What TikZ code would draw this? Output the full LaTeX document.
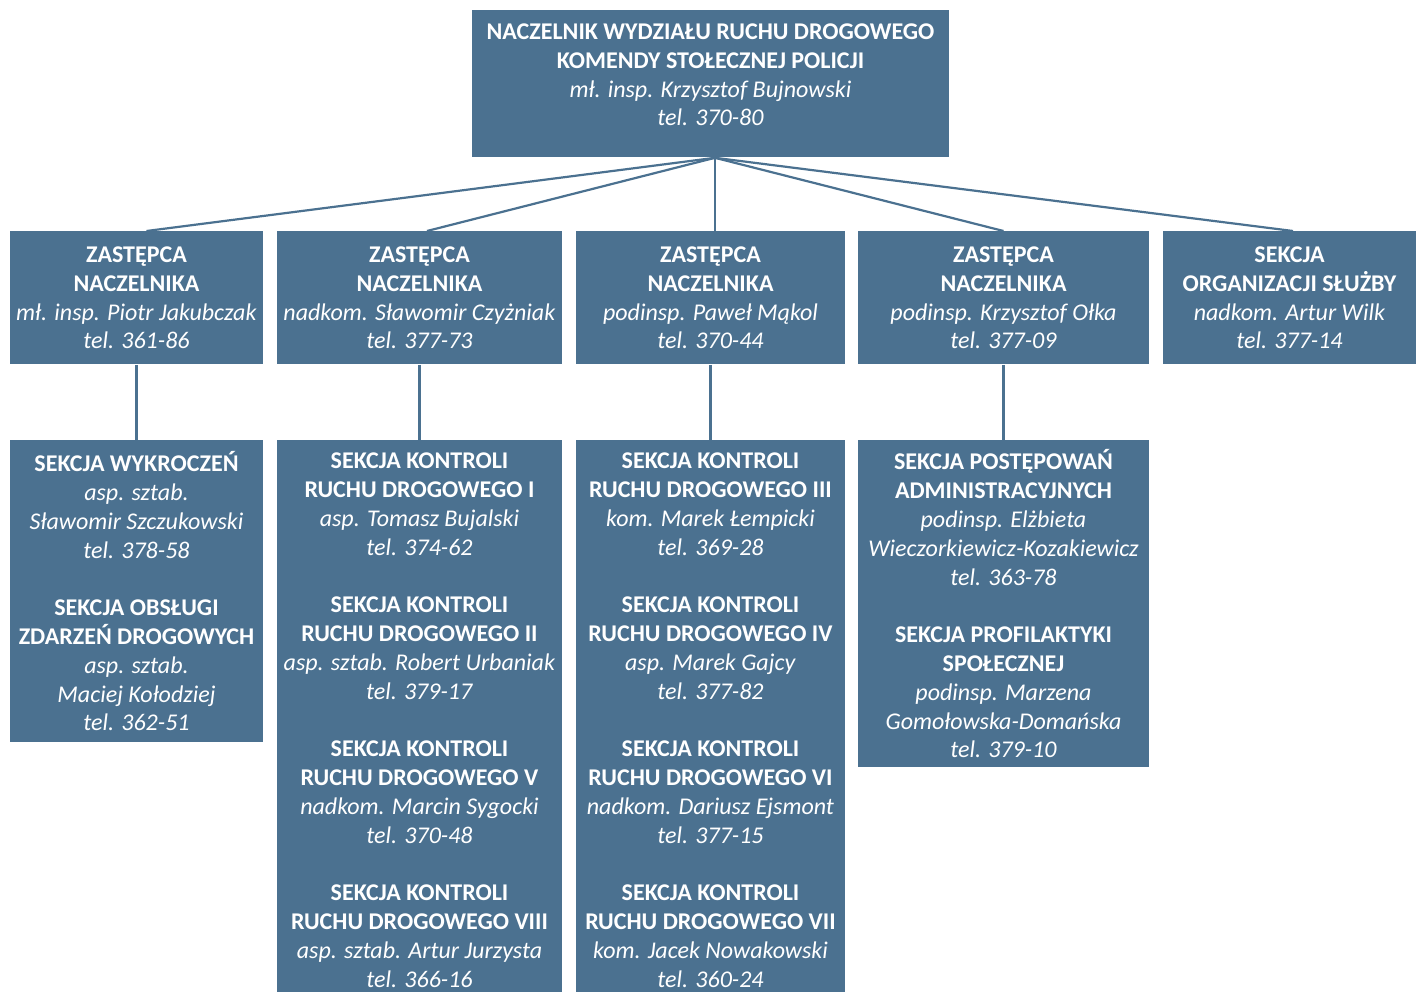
\documentclass[tikz,border=0pt]{standalone}
\usepackage{fontspec}
\setmainfont{Carlito}
\usetikzlibrary{positioning, calc}
\definecolor{Steel}{HTML}{4B7190}
\definecolor{White}{HTML}{FFFFFF}
\newcommand{\tyt}[1]{\textbf{#1}}
\newcommand{\kto}[1]{\textit{#1}}
\newcommand{\odstep}{\\[14.4pt]}
\tikzset{
    unitbox/.style={rectangle, fill=Steel, text=White, inner sep=0pt, align=center, anchor=north,
        font=\fontsize{12}{14.4}\selectfont},
    link/.style={draw=Steel, line width=1.1pt},
}

\begin{document}
\begin{tikzpicture}[x=0.5pt, y=-0.5pt]
    \useasboundingbox (0,0) rectangle (1419,991);

    % Naczelnik
    \node[unitbox, minimum width=238.5pt, minimum height=73.5pt, text depth=9pt] (naczelnik) at (710.5,10)
        {\tyt{NACZELNIK WYDZIAŁU RUCHU DROGOWEGO}\\ \tyt{KOMENDY STOŁECZNEJ POLICJI}\\
         \kto{mł. insp. Krzysztof Bujnowski}\\ \kto{tel. 370-80}};

    % Zastepcy i sekcja organizacji
    \node[unitbox, minimum width=126.5pt, minimum height=66.5pt] (zast1) at (136.5,231)
        {\tyt{ZASTĘPCA}\\ \tyt{NACZELNIKA}\\ \kto{mł. insp. Piotr Jakubczak}\\ \kto{tel. 361-86}};
    \node[unitbox, minimum width=142.5pt, minimum height=66.5pt] (zast2) at (419.5,231)
        {\tyt{ZASTĘPCA}\\ \tyt{NACZELNIKA}\\ \kto{nadkom. Sławomir Czyżniak}\\ \kto{tel. 377-73}};
    \node[unitbox, minimum width=134.5pt, minimum height=66.5pt] (zast3) at (710.5,231)
        {\tyt{ZASTĘPCA}\\ \tyt{NACZELNIKA}\\ \kto{podinsp. Paweł Mąkol}\\ \kto{tel. 370-44}};
    \node[unitbox, minimum width=145.5pt, minimum height=66.5pt] (zast4) at (1003.5,231)
        {\tyt{ZASTĘPCA}\\ \tyt{NACZELNIKA}\\ \kto{podinsp. Krzysztof Ołka}\\ \kto{tel. 377-09}};
    \node[unitbox, minimum width=126.5pt, minimum height=66.5pt] (organizacja) at (1289.5,231)
        {\tyt{SEKCJA}\\ \tyt{ORGANIZACJI SŁUŻBY}\\ \kto{nadkom. Artur Wilk}\\ \kto{tel. 377-14}};

    % Sekcje
    \node[unitbox, minimum width=126.5pt, minimum height=151pt] (sekcje1) at (136.5,440)
        {\tyt{SEKCJA WYKROCZEŃ}\\ \kto{asp. sztab.}\\ \kto{Sławomir Szczukowski}\\ \kto{tel. 378-58}\odstep
         \tyt{SEKCJA OBSŁUGI}\\ \tyt{ZDARZEŃ DROGOWYCH}\\ \kto{asp. sztab.}\\ \kto{Maciej Kołodziej}\\ \kto{tel. 362-51}};
    \node[unitbox, minimum width=142.5pt, minimum height=280pt] (sekcje2) at (419.5,440)
        {\tyt{SEKCJA KONTROLI}\\ \tyt{RUCHU DROGOWEGO I}\\ \kto{asp. Tomasz Bujalski}\\ \kto{tel. 374-62}\odstep
         \tyt{SEKCJA KONTROLI}\\ \tyt{RUCHU DROGOWEGO II}\\ \kto{asp. sztab. Robert Urbaniak}\\ \kto{tel. 379-17}\odstep
         \tyt{SEKCJA KONTROLI}\\ \tyt{RUCHU DROGOWEGO V}\\ \kto{nadkom. Marcin Sygocki}\\ \kto{tel. 370-48}\odstep
         \tyt{SEKCJA KONTROLI}\\ \tyt{RUCHU DROGOWEGO VIII}\\ \kto{asp. sztab. Artur Jurzysta}\\ \kto{tel. 366-16}};
    \node[unitbox, minimum width=134.5pt, minimum height=280pt] (sekcje3) at (710.5,440)
        {\tyt{SEKCJA KONTROLI}\\ \tyt{RUCHU DROGOWEGO III}\\ \kto{kom. Marek Łempicki}\\ \kto{tel. 369-28}\odstep
         \tyt{SEKCJA KONTROLI}\\ \tyt{RUCHU DROGOWEGO IV}\\ \kto{asp. Marek Gajcy}\\ \kto{tel. 377-82}\odstep
         \tyt{SEKCJA KONTROLI}\\ \tyt{RUCHU DROGOWEGO VI}\\ \kto{nadkom. Dariusz Ejsmont}\\ \kto{tel. 377-15}\odstep
         \tyt{SEKCJA KONTROLI}\\ \tyt{RUCHU DROGOWEGO VII}\\ \kto{kom. Jacek Nowakowski}\\ \kto{tel. 360-24}};
    \node[unitbox, minimum width=145.5pt, minimum height=163.5pt] (sekcje4) at (1003.5,440)
        {\tyt{SEKCJA POSTĘPOWAŃ}\\ \tyt{ADMINISTRACYJNYCH}\\ \kto{podinsp. Elżbieta}\\ \kto{Wieczorkiewicz-Kozakiewicz}\\ \kto{tel. 363-78}\odstep
         \tyt{SEKCJA PROFILAKTYKI}\\ \tyt{SPOŁECZNEJ}\\ \kto{podinsp. Marzena}\\ \kto{Gomołowska-Domańska}\\ \kto{tel. 379-10}};

    % Polaczenia
    \coordinate (wachlarz) at ([xshift=2.25pt]naczelnik.south);
    \draw[link] (wachlarz) -- ([xshift=5pt]zast1.north);
    \draw[link] (wachlarz) -- ([xshift=3.75pt]zast2.north);
    \draw[link] (wachlarz) -- ([xshift=2.25pt]zast3.north);
    \draw[link] (wachlarz) -- (zast4.north);
    \draw[link] (wachlarz) -- ([xshift=1.75pt]organizacja.north);
    \foreach \i in {1,...,4}
        \draw[link] (zast\i.south) -- (sekcje\i.north);
\end{tikzpicture}
\end{document}
